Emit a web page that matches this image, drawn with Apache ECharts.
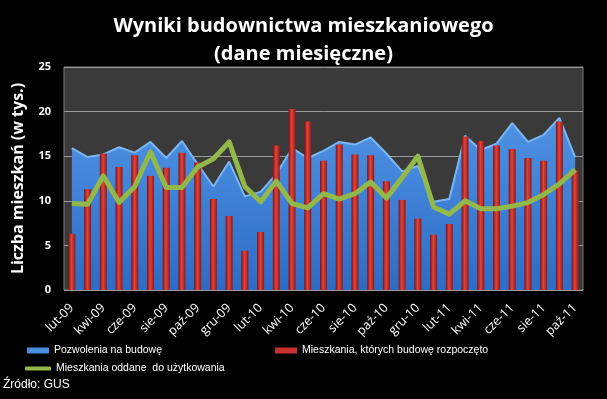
<!DOCTYPE html>
<html>
<head>
<meta charset="utf-8">
<script src="https://cdn.jsdelivr.net/npm/echarts@6/dist/echarts.min.js"></script>
<style>
html, body { margin: 0; padding: 0; background: #000; }
#chart { width: 607px; height: 399px; }
</style>
</head>
<body>
<div id="chart"></div>
<script>
// miesiace lut-09 .. paz-11
var months = ['lut-09', 'mar-09', 'kwi-09', 'maj-09', 'cze-09', 'lip-09', 'sie-09', 'wrz-09', 'paź-09', 'lis-09', 'gru-09',
    'sty-10', 'lut-10', 'mar-10', 'kwi-10', 'maj-10', 'cze-10', 'lip-10', 'sie-10', 'wrz-10', 'paź-10', 'lis-10', 'gru-10',
    'sty-11', 'lut-11', 'mar-11', 'kwi-11', 'maj-11', 'cze-11', 'lip-11', 'sie-11', 'wrz-11', 'paź-11'];

// tys. mieszkan
var pozwolenia = [15.9, 14.9, 15.2, 16.0, 15.4, 16.6, 14.8, 16.7, 14.1, 11.6, 14.4, 10.5, 11.0, 13.0, 15.9, 14.8, 15.6,
    16.6, 16.3, 17.1, 15.3, 13.3, 13.9, 9.9, 10.2, 17.3, 15.7, 16.4, 18.7, 16.6, 17.4, 19.3, 14.9];
var rozpoczete = [6.3, 11.3, 15.3, 13.8, 15.1, 12.8, 13.7, 15.4, 14.3, 10.2, 8.3, 4.4, 6.5, 16.2, 20.3, 18.9, 14.5,
    16.3, 15.2, 15.1, 12.2, 10.1, 8.0, 6.2, 7.4, 17.2, 16.7, 16.2, 15.8, 14.8, 14.5, 18.9, 13.4];
var oddane = [9.7, 9.6, 12.8, 9.8, 11.6, 15.5, 11.5, 11.5, 13.8, 14.7, 16.6, 11.6, 9.9, 12.2, 9.7, 9.2, 10.8,
    10.2, 10.8, 12.1, 10.3, 12.6, 15.0, 9.3, 8.5, 10.0, 9.1, 9.1, 9.4, 9.8, 10.7, 11.9, 13.5];

var yTicks = [0, 5, 10, 15, 20, 25];

var nameBlue = 'Pozwolenia na budowę';
var nameRed = 'Mieszkania, których budowę rozpoczęto';
var nameGreen = 'Mieszkania oddane  do użytkowania';

var blueFill = new echarts.graphic.LinearGradient(0, 0, 0, 1, [
    { offset: 0, color: '#4f93e4' },
    { offset: 1, color: '#2d6cc6' }
]);
var redFill = new echarts.graphic.LinearGradient(0, 0, 1, 0, [
    { offset: 0, color: '#7c1212' },
    { offset: 0.45, color: '#e2443c' },
    { offset: 1, color: '#8e1818' }
]);

var legendText = { color: '#fff', fontSize: 10.5, fontFamily: 'Liberation Sans' };

var myChart = echarts.init(document.getElementById('chart'), null, { renderer: 'canvas' });
var option = {
    backgroundColor: '#000',
    animation: false,
    title: {
        text: 'Wyniki budownictwa mieszkaniowego\n(dane miesięczne)',
        left: 'center',
        top: 7,
        textStyle: {
            color: '#fff',
            fontSize: 20,
            fontWeight: 'bold',
            fontFamily: 'Open Sans',
            lineHeight: 28
        }
    },
    grid: {
        left: 64,
        right: 24,
        top: 67,
        bottom: 109,
        show: true,
        backgroundColor: '#3a3a3a',
        borderColor: '#7a7a7a',
        borderWidth: 1
    },
    legend: [
        {
            left: 22, top: 340, itemWidth: 22, itemHeight: 6, textStyle: legendText,
            data: [{ name: nameBlue, icon: 'rect', itemStyle: { color: '#4a8de0' } }]
        },
        {
            left: 270, top: 340, itemWidth: 22, itemHeight: 6, textStyle: legendText,
            data: [{ name: nameRed, icon: 'rect', itemStyle: { color: '#c93030' } }]
        },
        {
            left: 20, top: 358, itemWidth: 26, itemHeight: 4, itemGap: 0, textStyle: legendText,
            data: [{ name: nameGreen, icon: 'roundRect', itemStyle: { color: '#92b84a' } }]
        }
    ],
    graphic: [
        {
            type: 'text',
            left: 3,
            top: 379,
            style: {
                text: 'Źródło: GUS',
                fill: '#fff',
                fontSize: 12,
                fontFamily: 'Liberation Sans Narrow, Liberation Sans'
            }
        }
    ],
    xAxis: {
        type: 'category',
        data: months,
        boundaryGap: true,
        axisLine: { show: false },
        axisTick: { show: false },
        axisLabel: {
            interval: 1,
            rotate: 45,
            color: '#fff',
            fontSize: 12.5,
            fontFamily: 'Open Sans',
            margin: 16
        }
    },
    yAxis: {
        type: 'value',
        min: yTicks[0],
        max: yTicks[yTicks.length - 1],
        interval: 5,
        name: 'Liczba mieszkań (w tys.)',
        nameLocation: 'middle',
        nameGap: 38,
        nameTextStyle: {
            color: '#fff',
            fontSize: 16,
            fontWeight: 'bold',
            fontFamily: 'Open Sans'
        },
        axisLine: { show: false },
        axisTick: { show: false },
        axisLabel: {
            color: '#fff',
            fontSize: 11,
            fontWeight: 'bold',
            fontFamily: 'Open Sans',
            margin: 13
        },
        splitLine: { lineStyle: { color: '#9a9a9a', width: 1 } }
    },
    series: [
        {
            name: nameBlue,
            type: 'line',
            data: pozwolenia,
            showSymbol: false,
            symbol: 'none',
            z: 1,
            lineStyle: { color: '#7cb6f2', width: 2 },
            itemStyle: { color: '#4a8de0' },
            areaStyle: { color: blueFill, opacity: 1 }
        },
        {
            name: nameRed,
            type: 'bar',
            data: rozpoczete,
            barWidth: 7,
            z: 2,
            itemStyle: { color: redFill }
        },
        {
            name: nameGreen,
            type: 'line',
            data: oddane,
            showSymbol: false,
            symbol: 'none',
            z: 3,
            lineStyle: { color: '#92b84a', width: 5, join: 'round' },
            itemStyle: { color: '#92b84a' }
        }
    ]
};
myChart.setOption(option);
</script>
</body>
</html>
